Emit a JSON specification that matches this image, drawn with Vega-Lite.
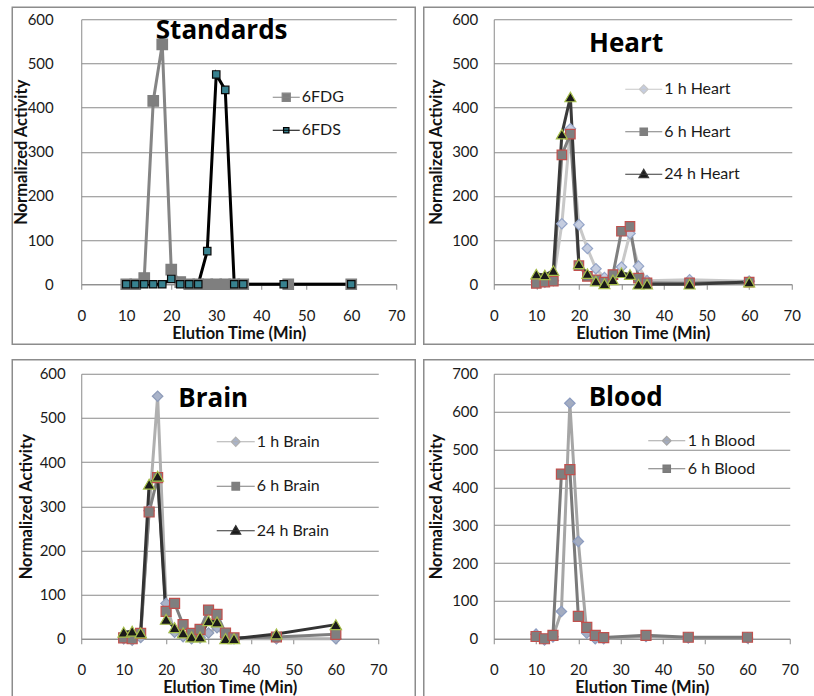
{
  "$schema": "https://vega.github.io/schema/vega-lite/v6.json",
  "background": "white",
  "padding": {"left": 11.25, "top": 6.25, "right": 0, "bottom": 0},
  "config": {
    "view": {"stroke": null},
    "font": "Lato",
    "axis": {"labelFont": "Lato", "labelFontSize": 15, "labelColor": "#1a1a1a", "titleFont": "Lato", "titleFontSize": 16.5, "titleFontWeight": "bold", "titleColor": "#111111", "domainColor": "#8a8a8a", "tickColor": "#8a8a8a", "gridColor": "#8a8a8a", "domainWidth": 1, "gridWidth": 1, "labelOverlap": false, "tickCount": 12},
    "axisX": {"grid": false, "tickSize": 5, "labelPadding": 19, "titlePadding": 2, "labelFlush": false},
    "axisY": {"ticks": false, "labelPadding": 16},
    "legend": {"labelFont": "Lato", "labelFontSize": 16, "labelColor": "#1a1a1a", "padding": 0, "symbolOpacity": 1, "symbolStrokeWidth": 3},
    "point": {"filled": true, "strokeWidth": 1.2, "opacity": 1},
    "text": {"font": "Open Sans", "fontSize": 26, "fontWeight": "bold", "color": "#000000", "baseline": "alphabetic", "align": "center"}
  },
  "resolve": {"scale": {"color": "independent", "shape": "independent", "fill": "independent", "stroke": "independent"}, "legend": {"color": "independent", "shape": "independent", "fill": "independent", "stroke": "independent"}},
  "datasets": {
    "frame": [{"frame": 1}],
    "std": [
      {"series": "6FDG", "t": 10, "v": 0}, {"series": "6FDG", "t": 12, "v": 0}, {"series": "6FDG", "t": 14, "v": 14}, {"series": "6FDG", "t": 16, "v": 415}, {"series": "6FDG", "t": 18, "v": 543}, {"series": "6FDG", "t": 20, "v": 33}, {"series": "6FDG", "t": 22, "v": 5}, {"series": "6FDG", "t": 24, "v": 0}, {"series": "6FDG", "t": 26, "v": 0}, {"series": "6FDG", "t": 28, "v": 0}, {"series": "6FDG", "t": 30, "v": 0}, {"series": "6FDG", "t": 32, "v": 0}, {"series": "6FDG", "t": 34, "v": 0}, {"series": "6FDG", "t": 36, "v": 0}, {"series": "6FDG", "t": 46, "v": 0}, {"series": "6FDG", "t": 60, "v": 0},
      {"series": "6FDS", "t": 10, "v": 0}, {"series": "6FDS", "t": 12, "v": 0}, {"series": "6FDS", "t": 14, "v": 0}, {"series": "6FDS", "t": 16, "v": 0}, {"series": "6FDS", "t": 18, "v": 0}, {"series": "6FDS", "t": 20, "v": 12}, {"series": "6FDS", "t": 22, "v": 0}, {"series": "6FDS", "t": 24, "v": 0}, {"series": "6FDS", "t": 26, "v": 0}, {"series": "6FDS", "t": 28, "v": 75}, {"series": "6FDS", "t": 30, "v": 475}, {"series": "6FDS", "t": 32, "v": 440}, {"series": "6FDS", "t": 34, "v": 0}, {"series": "6FDS", "t": 36, "v": 0}, {"series": "6FDS", "t": 45, "v": 0}, {"series": "6FDS", "t": 60, "v": 0}
    ],
    "heart": [
      {"series": "1 h Heart", "t": 10, "v": 5}, {"series": "1 h Heart", "t": 12, "v": 5}, {"series": "1 h Heart", "t": 14, "v": 8}, {"series": "1 h Heart", "t": 16, "v": 137}, {"series": "1 h Heart", "t": 18, "v": 352}, {"series": "1 h Heart", "t": 20, "v": 135}, {"series": "1 h Heart", "t": 22, "v": 81}, {"series": "1 h Heart", "t": 24, "v": 35}, {"series": "1 h Heart", "t": 26, "v": 15}, {"series": "1 h Heart", "t": 28, "v": 18}, {"series": "1 h Heart", "t": 30, "v": 39}, {"series": "1 h Heart", "t": 32, "v": 115}, {"series": "1 h Heart", "t": 34, "v": 41}, {"series": "1 h Heart", "t": 36, "v": 8}, {"series": "1 h Heart", "t": 46, "v": 10}, {"series": "1 h Heart", "t": 60, "v": 7},
      {"series": "6 h Heart", "t": 10, "v": 2}, {"series": "6 h Heart", "t": 12, "v": 5}, {"series": "6 h Heart", "t": 14, "v": 7}, {"series": "6 h Heart", "t": 16, "v": 293}, {"series": "6 h Heart", "t": 18, "v": 340}, {"series": "6 h Heart", "t": 20, "v": 42}, {"series": "6 h Heart", "t": 22, "v": 18}, {"series": "6 h Heart", "t": 24, "v": 10}, {"series": "6 h Heart", "t": 26, "v": 5}, {"series": "6 h Heart", "t": 28, "v": 22}, {"series": "6 h Heart", "t": 30, "v": 120}, {"series": "6 h Heart", "t": 32, "v": 131}, {"series": "6 h Heart", "t": 34, "v": 14}, {"series": "6 h Heart", "t": 36, "v": 3}, {"series": "6 h Heart", "t": 46, "v": 3}, {"series": "6 h Heart", "t": 60, "v": 5},
      {"series": "24 h Heart", "t": 10, "v": 23}, {"series": "24 h Heart", "t": 12, "v": 21}, {"series": "24 h Heart", "t": 14, "v": 31}, {"series": "24 h Heart", "t": 16, "v": 340}, {"series": "24 h Heart", "t": 18, "v": 424}, {"series": "24 h Heart", "t": 20, "v": 46}, {"series": "24 h Heart", "t": 22, "v": 24}, {"series": "24 h Heart", "t": 24, "v": 7}, {"series": "24 h Heart", "t": 26, "v": 1}, {"series": "24 h Heart", "t": 28, "v": 10}, {"series": "24 h Heart", "t": 30, "v": 26}, {"series": "24 h Heart", "t": 32, "v": 22}, {"series": "24 h Heart", "t": 34, "v": 0}, {"series": "24 h Heart", "t": 36, "v": 0}, {"series": "24 h Heart", "t": 46, "v": 0}, {"series": "24 h Heart", "t": 60, "v": 5}
    ],
    "brain": [
      {"series": "1 h Brain", "t": 10, "v": 0}, {"series": "1 h Brain", "t": 12, "v": -3}, {"series": "1 h Brain", "t": 14, "v": 3}, {"series": "1 h Brain", "t": 16, "v": 290}, {"series": "1 h Brain", "t": 18, "v": 549}, {"series": "1 h Brain", "t": 20, "v": 80}, {"series": "1 h Brain", "t": 22, "v": 15}, {"series": "1 h Brain", "t": 24, "v": 5}, {"series": "1 h Brain", "t": 26, "v": 0}, {"series": "1 h Brain", "t": 28, "v": 2}, {"series": "1 h Brain", "t": 30, "v": 13}, {"series": "1 h Brain", "t": 32, "v": 25}, {"series": "1 h Brain", "t": 34, "v": 5}, {"series": "1 h Brain", "t": 36, "v": 0}, {"series": "1 h Brain", "t": 46, "v": 0}, {"series": "1 h Brain", "t": 60, "v": 0},
      {"series": "6 h Brain", "t": 10, "v": 2}, {"series": "6 h Brain", "t": 12, "v": 0}, {"series": "6 h Brain", "t": 14, "v": 12}, {"series": "6 h Brain", "t": 16, "v": 287}, {"series": "6 h Brain", "t": 18, "v": 365}, {"series": "6 h Brain", "t": 20, "v": 62}, {"series": "6 h Brain", "t": 22, "v": 80}, {"series": "6 h Brain", "t": 24, "v": 32}, {"series": "6 h Brain", "t": 26, "v": 12}, {"series": "6 h Brain", "t": 28, "v": 21}, {"series": "6 h Brain", "t": 30, "v": 65}, {"series": "6 h Brain", "t": 32, "v": 55}, {"series": "6 h Brain", "t": 34, "v": 13}, {"series": "6 h Brain", "t": 36, "v": 2}, {"series": "6 h Brain", "t": 46, "v": 4}, {"series": "6 h Brain", "t": 60, "v": 10},
      {"series": "24 h Brain", "t": 10, "v": 15}, {"series": "24 h Brain", "t": 12, "v": 17}, {"series": "24 h Brain", "t": 14, "v": 13}, {"series": "24 h Brain", "t": 16, "v": 350}, {"series": "24 h Brain", "t": 18, "v": 368}, {"series": "24 h Brain", "t": 20, "v": 44}, {"series": "24 h Brain", "t": 22, "v": 25}, {"series": "24 h Brain", "t": 24, "v": 13}, {"series": "24 h Brain", "t": 26, "v": 4}, {"series": "24 h Brain", "t": 28, "v": 4}, {"series": "24 h Brain", "t": 30, "v": 41}, {"series": "24 h Brain", "t": 32, "v": 38}, {"series": "24 h Brain", "t": 34, "v": 0}, {"series": "24 h Brain", "t": 36, "v": 0}, {"series": "24 h Brain", "t": 46, "v": 11}, {"series": "24 h Brain", "t": 60, "v": 32}
    ],
    "blood": [
      {"series": "1 h Blood", "t": 10, "v": 12}, {"series": "1 h Blood", "t": 12, "v": -3}, {"series": "1 h Blood", "t": 14, "v": 5}, {"series": "1 h Blood", "t": 16, "v": 72}, {"series": "1 h Blood", "t": 18, "v": 622}, {"series": "1 h Blood", "t": 20, "v": 257}, {"series": "1 h Blood", "t": 22, "v": 15}, {"series": "1 h Blood", "t": 24, "v": 0}, {"series": "1 h Blood", "t": 26, "v": 0}, {"series": "1 h Blood", "t": 36, "v": 6}, {"series": "1 h Blood", "t": 46, "v": 2}, {"series": "1 h Blood", "t": 60, "v": 2},
      {"series": "6 h Blood", "t": 10, "v": 6}, {"series": "6 h Blood", "t": 12, "v": 0}, {"series": "6 h Blood", "t": 14, "v": 9}, {"series": "6 h Blood", "t": 16, "v": 435}, {"series": "6 h Blood", "t": 18, "v": 447}, {"series": "6 h Blood", "t": 20, "v": 59}, {"series": "6 h Blood", "t": 22, "v": 30}, {"series": "6 h Blood", "t": 24, "v": 9}, {"series": "6 h Blood", "t": 26, "v": 3}, {"series": "6 h Blood", "t": 36, "v": 9}, {"series": "6 h Blood", "t": 46, "v": 4}, {"series": "6 h Blood", "t": 60, "v": 4}
    ]
  },
  "columns": 2,
  "align": "none",
  "spacing": {"row": 13.5, "column": 6.5},
  "concat": [
    {
      "width": 315, "height": 265,
      "layer": [
        {
          "data": {"name": "frame"},
          "mark": {"type": "rect", "filled": false, "color": "#8c8c8c", "strokeWidth": 1.5, "clip": false},
          "encoding": {
            "x": {"datum": -15.33, "type": "quantitative", "scale": {"domain": [0, 70], "nice": false, "zero": false}, "axis": {"title": "Elution Time (Min)", "values": [0, 10, 20, 30, 40, 50, 60, 70]}},
            "x2": {"datum": 74.22},
            "y": {"datum": 627.17, "type": "quantitative", "scale": {"domain": [0, 600], "nice": false}, "axis": {"title": "Normalized Activity", "values": [0, 100, 200, 300, 400, 500, 600], "grid": true, "labelPadding": 28, "titlePadding": -2}},
            "y2": {"datum": -135.85}
          }
        },
        {
          "data": {"name": "frame"},
          "mark": {"type": "text", "text": "Standards", "clip": false},
          "encoding": {
            "x": {"datum": 31.2, "type": "quantitative", "scale": {"domain": [0, 70], "nice": false, "zero": false}, "axis": {"title": "Elution Time (Min)", "values": [0, 10, 20, 30, 40, 50, 60, 70]}},
            "y": {"datum": 554.7, "type": "quantitative", "scale": {"domain": [0, 600], "nice": false}, "axis": {"title": "Normalized Activity", "values": [0, 100, 200, 300, 400, 500, 600], "grid": true, "labelPadding": 28, "titlePadding": -2}}
          }
        },
        {
          "data": {"name": "std"},
          "mark": {"type": "line", "strokeWidth": 3},
          "encoding": {
            "x": {"field": "t", "type": "quantitative", "scale": {"domain": [0, 70], "nice": false, "zero": false}, "axis": {"title": "Elution Time (Min)", "values": [0, 10, 20, 30, 40, 50, 60, 70]}},
            "y": {"field": "v", "type": "quantitative", "scale": {"domain": [0, 600], "nice": false}, "axis": {"title": "Normalized Activity", "values": [0, 100, 200, 300, 400, 500, 600], "grid": true, "labelPadding": 28, "titlePadding": -2}},
            "color": {"field": "series", "type": "nominal", "scale": {"domain": ["6FDS", "6FDG"], "range": ["#000000", "#858585"]}, "legend": null}
          }
        },
        {
          "data": {"name": "std"},
          "mark": {"type": "point", "opacity": 0},
          "encoding": {
            "x": {"field": "t", "type": "quantitative"},
            "y": {"field": "v", "type": "quantitative"},
            "shape": {"field": "series", "type": "nominal", "scale": {"domain": ["6FDG", "6FDS"], "range": ["M-1,0L1,0M-0.3,-0.3L0.3,-0.3L0.3,0.3L-0.3,0.3Z", "M-1,0L1,0M-0.2,-0.2L0.2,-0.2L0.2,0.2L-0.2,0.2Z"]},
              "legend": {"orient": "none", "legendX": 190.5, "legendY": 68, "title": null, "symbolSize": 729, "symbolStrokeWidth": 3, "symbolOpacity": 1, "clipHeight": 20, "rowPadding": 13, "labelOffset": 1, "padding": 0}},
            "fill": {"field": "series", "type": "nominal", "scale": {"domain": ["6FDG", "6FDS"], "range": ["#7f7f7f", "#37818f"]}},
            "stroke": {"field": "series", "type": "nominal", "scale": {"domain": ["6FDG", "6FDS"], "range": ["#858585", "#000000"]}}
          }
        },
        {"data": {"name": "std"}, "transform": [{"filter": "datum.series === '6FDG'"}], "mark": {"type": "point", "shape": "square", "size": 110, "fill": "#7f7f7f", "stroke": "#7f7f7f"},
          "encoding": {"x": {"field": "t", "type": "quantitative"}, "y": {"field": "v", "type": "quantitative"}}},
        {"data": {"name": "std"}, "transform": [{"filter": "datum.series === '6FDS'"}], "mark": {"type": "point", "shape": "square", "size": 55, "fill": "#37818f", "stroke": "#0a0a0a"},
          "encoding": {"x": {"field": "t", "type": "quantitative"}, "y": {"field": "v", "type": "quantitative"}}}
      ]
    },
    {
      "width": 298, "height": 265,
      "layer": [
        {
          "data": {"name": "frame"},
          "mark": {"type": "rect", "filled": false, "color": "#8c8c8c", "strokeWidth": 1.5, "clip": false},
          "encoding": {
            "x": {"datum": -16.44, "type": "quantitative", "scale": {"domain": [0, 70], "nice": false, "zero": false}, "axis": {"title": "Elution Time (Min)", "values": [0, 10, 20, 30, 40, 50, 60, 70]}},
            "x2": {"datum": 75.87},
            "y": {"datum": 627.17, "type": "quantitative", "scale": {"domain": [0, 600], "nice": false}, "axis": {"title": "Normalized Activity", "values": [0, 100, 200, 300, 400, 500, 600], "grid": true, "titlePadding": 7}},
            "y2": {"datum": -135.85}
          }
        },
        {
          "data": {"name": "frame"},
          "mark": {"type": "text", "text": "Heart", "clip": false},
          "encoding": {
            "x": {"datum": 31.1, "type": "quantitative", "scale": {"domain": [0, 70], "nice": false, "zero": false}, "axis": {"title": "Elution Time (Min)", "values": [0, 10, 20, 30, 40, 50, 60, 70]}},
            "y": {"datum": 525, "type": "quantitative", "scale": {"domain": [0, 600], "nice": false}, "axis": {"title": "Normalized Activity", "values": [0, 100, 200, 300, 400, 500, 600], "grid": true, "titlePadding": 7}}
          }
        },
        {
          "data": {"name": "heart"},
          "mark": {"type": "line", "strokeWidth": 3},
          "encoding": {
            "x": {"field": "t", "type": "quantitative", "scale": {"domain": [0, 70], "nice": false, "zero": false}, "axis": {"title": "Elution Time (Min)", "values": [0, 10, 20, 30, 40, 50, 60, 70]}},
            "y": {"field": "v", "type": "quantitative", "scale": {"domain": [0, 600], "nice": false}, "axis": {"title": "Normalized Activity", "values": [0, 100, 200, 300, 400, 500, 600], "grid": true, "titlePadding": 7}},
            "color": {"field": "series", "type": "nominal", "scale": {"domain": ["24 h Heart", "6 h Heart", "1 h Heart"], "range": ["#3a3a3a", "#7f7f7f", "#c8c8c8"]}, "legend": null}
          }
        },
        {
          "data": {"name": "heart"},
          "mark": {"type": "point", "opacity": 0},
          "encoding": {
            "x": {"field": "t", "type": "quantitative"},
            "y": {"field": "v", "type": "quantitative"},
            "shape": {"field": "series", "type": "nominal", "scale": {"domain": ["1 h Heart", "6 h Heart", "24 h Heart"], "range": ["M-1,0L1,0M0,-0.24L0.24,0L0,0.24L-0.24,0Z", "M-1,0L1,0M-0.2,-0.2L0.2,-0.2L0.2,0.2L-0.2,0.2Z", "M-1,0L1,0M0,-0.27L0.26,0.18L-0.26,0.18Z"]},
              "legend": {"orient": "none", "legendX": 130.5, "legendY": 60, "title": null, "symbolSize": 1369, "symbolStrokeWidth": 3, "symbolOpacity": 1, "clipHeight": 20, "rowPadding": 22.5, "labelOffset": 1, "padding": 0}},
            "fill": {"field": "series", "type": "nominal", "scale": {"domain": ["1 h Heart", "6 h Heart", "24 h Heart"], "range": ["#c5cde0", "#7f7f7f", "#1a1a1a"]}},
            "stroke": {"field": "series", "type": "nominal", "scale": {"domain": ["1 h Heart", "6 h Heart", "24 h Heart"], "range": ["#c8c8c8", "#7f7f7f", "#3a3a3a"]}}
          }
        },
        {"data": {"name": "heart"}, "transform": [{"filter": "datum.series === '1 h Heart'"}], "mark": {"type": "point", "shape": "diamond", "size": 110, "fill": "#c5cde0", "stroke": "#95a5c8"},
          "encoding": {"x": {"field": "t", "type": "quantitative"}, "y": {"field": "v", "type": "quantitative"}}},
        {"data": {"name": "heart"}, "transform": [{"filter": "datum.series === '6 h Heart'"}], "mark": {"type": "point", "shape": "square", "size": 90, "fill": "#7f7f7f", "stroke": "#c0504d"},
          "encoding": {"x": {"field": "t", "type": "quantitative"}, "y": {"field": "v", "type": "quantitative"}}},
        {"data": {"name": "heart"}, "transform": [{"filter": "datum.series === '24 h Heart'"}], "mark": {"type": "point", "shape": "triangle-up", "size": 120, "fill": "#1a1a1a", "stroke": "#a6bf4b"},
          "encoding": {"x": {"field": "t", "type": "quantitative"}, "y": {"field": "v", "type": "quantitative"}}}
      ]
    },
    {
      "width": 297, "height": 265,
      "layer": [
        {
          "data": {"name": "frame"},
          "mark": {"type": "rect", "filled": false, "color": "#8c8c8c", "strokeWidth": 1.5, "clip": false},
          "encoding": {
            "x": {"datum": -16.26, "type": "quantitative", "scale": {"domain": [0, 70], "nice": false, "zero": false}, "axis": {"title": "Elution Time (Min)", "values": [0, 10, 20, 30, 40, 50, 60, 70]}},
            "x2": {"datum": 78.72},
            "y": {"datum": 631.7, "type": "quantitative", "scale": {"domain": [0, 600], "nice": false}, "axis": {"title": "Normalized Activity", "values": [0, 100, 200, 300, 400, 500, 600], "grid": true, "titlePadding": 5}},
            "y2": {"datum": -140.38}
          }
        },
        {
          "data": {"name": "frame"},
          "mark": {"type": "text", "text": "Brain", "clip": false},
          "encoding": {
            "x": {"datum": 31.1, "type": "quantitative", "scale": {"domain": [0, 70], "nice": false, "zero": false}, "axis": {"title": "Elution Time (Min)", "values": [0, 10, 20, 30, 40, 50, 60, 70]}},
            "y": {"datum": 525, "type": "quantitative", "scale": {"domain": [0, 600], "nice": false}, "axis": {"title": "Normalized Activity", "values": [0, 100, 200, 300, 400, 500, 600], "grid": true, "titlePadding": 5}}
          }
        },
        {
          "data": {"name": "brain"},
          "mark": {"type": "line", "strokeWidth": 3},
          "encoding": {
            "x": {"field": "t", "type": "quantitative", "scale": {"domain": [0, 70], "nice": false, "zero": false}, "axis": {"title": "Elution Time (Min)", "values": [0, 10, 20, 30, 40, 50, 60, 70]}},
            "y": {"field": "v", "type": "quantitative", "scale": {"domain": [0, 600], "nice": false}, "axis": {"title": "Normalized Activity", "values": [0, 100, 200, 300, 400, 500, 600], "grid": true, "titlePadding": 5}},
            "color": {"field": "series", "type": "nominal", "scale": {"domain": ["24 h Brain", "6 h Brain", "1 h Brain"], "range": ["#333333", "#7f7f7f", "#b0b0b0"]}, "legend": null}
          }
        },
        {
          "data": {"name": "brain"},
          "mark": {"type": "point", "opacity": 0},
          "encoding": {
            "x": {"field": "t", "type": "quantitative"},
            "y": {"field": "v", "type": "quantitative"},
            "shape": {"field": "series", "type": "nominal", "scale": {"domain": ["1 h Brain", "6 h Brain", "24 h Brain"], "range": ["M-1,0L1,0M0,-0.24L0.24,0L0,0.24L-0.24,0Z", "M-1,0L1,0M-0.2,-0.2L0.2,-0.2L0.2,0.2L-0.2,0.2Z", "M-1,0L1,0M0,-0.27L0.26,0.18L-0.26,0.18Z"]},
              "legend": {"orient": "none", "legendX": 134.5, "legendY": 58, "title": null, "symbolSize": 1444, "symbolStrokeWidth": 3, "symbolOpacity": 1, "clipHeight": 20, "rowPadding": 24.5, "labelOffset": 1, "padding": 0}},
            "fill": {"field": "series", "type": "nominal", "scale": {"domain": ["1 h Brain", "6 h Brain", "24 h Brain"], "range": ["#a9b3c9", "#7f7f7f", "#1a1a1a"]}},
            "stroke": {"field": "series", "type": "nominal", "scale": {"domain": ["1 h Brain", "6 h Brain", "24 h Brain"], "range": ["#b0b0b0", "#7f7f7f", "#333333"]}}
          }
        },
        {"data": {"name": "brain"}, "transform": [{"filter": "datum.series === '1 h Brain'"}], "mark": {"type": "point", "shape": "diamond", "size": 110, "fill": "#a9b3c9", "stroke": "#8e9bb8"},
          "encoding": {"x": {"field": "t", "type": "quantitative"}, "y": {"field": "v", "type": "quantitative"}}},
        {"data": {"name": "brain"}, "transform": [{"filter": "datum.series === '6 h Brain'"}], "mark": {"type": "point", "shape": "square", "size": 100, "fill": "#7f7f7f", "stroke": "#c0504d"},
          "encoding": {"x": {"field": "t", "type": "quantitative"}, "y": {"field": "v", "type": "quantitative"}}},
        {"data": {"name": "brain"}, "transform": [{"filter": "datum.series === '24 h Brain'"}], "mark": {"type": "point", "shape": "triangle-up", "size": 130, "fill": "#1a1a1a", "stroke": "#a6bf4b"},
          "encoding": {"x": {"field": "t", "type": "quantitative"}, "y": {"field": "v", "type": "quantitative"}}}
      ]
    },
    {
      "width": 296, "height": 265,
      "layer": [
        {
          "data": {"name": "frame"},
          "mark": {"type": "rect", "filled": false, "color": "#8c8c8c", "strokeWidth": 1.5, "clip": false},
          "encoding": {
            "x": {"datum": -16.55, "type": "quantitative", "scale": {"domain": [0, 70], "nice": false, "zero": false}, "axis": {"title": "Elution Time (Min)", "values": [0, 10, 20, 30, 40, 50, 60, 70]}},
            "x2": {"datum": 76.38},
            "y": {"datum": 736.98, "type": "quantitative", "scale": {"domain": [0, 700], "nice": false}, "axis": {"title": "Normalized Activity", "values": [0, 100, 200, 300, 400, 500, 600, 700], "grid": true, "titlePadding": 7}},
            "y2": {"datum": -163.77}
          }
        },
        {
          "data": {"name": "frame"},
          "mark": {"type": "text", "text": "Blood", "clip": false},
          "encoding": {
            "x": {"datum": 31.2, "type": "quantitative", "scale": {"domain": [0, 70], "nice": false, "zero": false}, "axis": {"title": "Elution Time (Min)", "values": [0, 10, 20, 30, 40, 50, 60, 70]}},
            "y": {"datum": 615.4, "type": "quantitative", "scale": {"domain": [0, 700], "nice": false}, "axis": {"title": "Normalized Activity", "values": [0, 100, 200, 300, 400, 500, 600, 700], "grid": true, "titlePadding": 7}}
          }
        },
        {
          "data": {"name": "blood"},
          "mark": {"type": "line", "strokeWidth": 3},
          "encoding": {
            "x": {"field": "t", "type": "quantitative", "scale": {"domain": [0, 70], "nice": false, "zero": false}, "axis": {"title": "Elution Time (Min)", "values": [0, 10, 20, 30, 40, 50, 60, 70]}},
            "y": {"field": "v", "type": "quantitative", "scale": {"domain": [0, 700], "nice": false}, "axis": {"title": "Normalized Activity", "values": [0, 100, 200, 300, 400, 500, 600, 700], "grid": true, "titlePadding": 7}},
            "color": {"field": "series", "type": "nominal", "scale": {"domain": ["6 h Blood", "1 h Blood"], "range": ["#7a7a7a", "#a6a6a6"]}, "legend": null}
          }
        },
        {
          "data": {"name": "blood"},
          "mark": {"type": "point", "opacity": 0},
          "encoding": {
            "x": {"field": "t", "type": "quantitative"},
            "y": {"field": "v", "type": "quantitative"},
            "shape": {"field": "series", "type": "nominal", "scale": {"domain": ["1 h Blood", "6 h Blood"], "range": ["M-1,0L1,0M0,-0.24L0.24,0L0,0.24L-0.24,0Z", "M-1,0L1,0M-0.2,-0.2L0.2,-0.2L0.2,0.2L-0.2,0.2Z"]},
              "legend": {"orient": "none", "legendX": 153.5, "legendY": 57, "title": null, "symbolSize": 1369, "symbolStrokeWidth": 3, "symbolOpacity": 1, "clipHeight": 20, "rowPadding": 8, "labelOffset": 1.5, "padding": 0}},
            "fill": {"field": "series", "type": "nominal", "scale": {"domain": ["1 h Blood", "6 h Blood"], "range": ["#a3acc0", "#7f7f7f"]}},
            "stroke": {"field": "series", "type": "nominal", "scale": {"domain": ["1 h Blood", "6 h Blood"], "range": ["#a6a6a6", "#7a7a7a"]}}
          }
        },
        {"data": {"name": "blood"}, "transform": [{"filter": "datum.series === '1 h Blood'"}], "mark": {"type": "point", "shape": "diamond", "size": 110, "fill": "#a3acc0", "stroke": "#8c9cc0"},
          "encoding": {"x": {"field": "t", "type": "quantitative"}, "y": {"field": "v", "type": "quantitative"}}},
        {"data": {"name": "blood"}, "transform": [{"filter": "datum.series === '6 h Blood'"}], "mark": {"type": "point", "shape": "square", "size": 100, "fill": "#7f7f7f", "stroke": "#c0504d"},
          "encoding": {"x": {"field": "t", "type": "quantitative"}, "y": {"field": "v", "type": "quantitative"}}}
      ]
    }
  ]
}
